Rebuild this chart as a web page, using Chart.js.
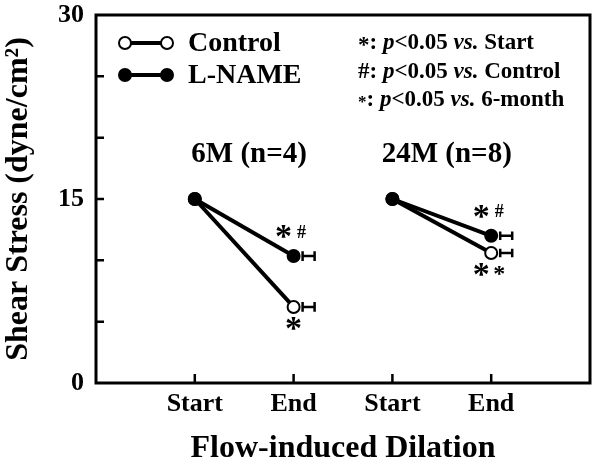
<!DOCTYPE html>
<html>
<head>
<meta charset="utf-8">
<script src="https://cdn.jsdelivr.net/npm/chart.js@4.4.0/dist/chart.umd.min.js"></script>
<style>
  body { margin: 0; background: #fff; }
  #wrap { width: 600px; height: 468px; }
</style>
</head>
<body>
<div id="wrap"><canvas id="shear-chart"></canvas></div>
<script>
// Data
var xLabels = ["", "Start", "End", "Start", "End", ""];
var groupLabels = ["6M (n=4)", "24M (n=8)"];
var controlVals = [15, 6.2, 15, 10.6];
var lnameVals = [15, 10.35, 15, 12.0];
var controlSem = [0, 0.4, 0, 0.35];
var lnameSem = [0, 0.4, 0, 0.35];
var yTickLabels = [0, 15, 30];
var seriesNames = ["Control", "L-NAME"];
// significance marks at the End points
var lnameMarks = [["*", "#"], ["*", "#"]];
var controlMarks = [["*"], ["*", "\u2217"]];
var noteLines = [
  ["*", "Start"],
  ["#", "Control"],
  ["\u2217", "6-month"],
];

var SERIF = "'Liberation Serif', 'Times New Roman', serif";

function groupPoints(vals, g) {
  return [
    { x: 2 * g + 1, y: vals[2 * g] },
    { x: 2 * g + 2, y: vals[2 * g + 1] },
  ];
}

function makeDataset(name, vals, g, filled) {
  return {
    label: name,
    data: groupPoints(vals, g),
    borderColor: "#000",
    borderWidth: 4,
    pointRadius: 6,
    pointBorderWidth: 2,
    pointBackgroundColor: filled ? "#000" : "#fff",
    pointBorderColor: "#000",
    tension: 0,
  };
}

// first datasets are drawn on top, so L-NAME first
var datasets = [
  makeDataset("L-NAME", lnameVals, 0, true),
  makeDataset("L-NAME", lnameVals, 1, true),
  makeDataset("Control", controlVals, 0, false),
  makeDataset("Control", controlVals, 1, false),
];

function drawMark(ctx, txt, x, y) {
  if (txt == "*") {
    ctx.font = "bold 34px " + SERIF;
    ctx.fillText("*", x, y + 5);
  } else if (txt == "#") {
    ctx.font = "bold 18px " + SERIF;
    ctx.fillText("#", x, y);
  } else {
    ctx.font = "bold 24px " + SERIF;
    ctx.fillText("*", x, y + 4);
  }
}

var extras = {
  id: "extras",
  afterDatasetsDraw: function (chart) {
    var ctx = chart.ctx;
    var xs = chart.scales.x;
    var ys = chart.scales.y;
    var area = chart.chartArea;
    ctx.save();
    ctx.strokeStyle = "#000";
    ctx.fillStyle = "#000";

    // frame
    ctx.lineWidth = 3;
    ctx.strokeRect(area.left, area.top, area.right - area.left, area.bottom - area.top);

    // inward tick marks
    ctx.lineWidth = 2.5;
    ctx.beginPath();
    for (var v = 5; v < 30; v += 5) {
      var py = ys.getPixelForValue(v);
      ctx.moveTo(area.left, py);
      ctx.lineTo(area.left + 8, py);
    }
    for (var i = 1; i <= 4; i++) {
      var px = xs.getPixelForValue(i);
      ctx.moveTo(px, area.bottom);
      ctx.lineTo(px, area.bottom - 9);
    }
    ctx.stroke();

    // error bars, drawn beside the End points
    function errBar(x, y, sem) {
      var px = xs.getPixelForValue(x);
      var py = ys.getPixelForValue(y);
      var h = Math.abs(ys.getPixelForValue(y + sem) - py);
      ctx.lineWidth = 2.5;
      ctx.beginPath();
      ctx.moveTo(px + 9, py);
      ctx.lineTo(px + 21, py);
      ctx.moveTo(px + 9, py - h);
      ctx.lineTo(px + 9, py + h);
      ctx.moveTo(px + 21, py - h);
      ctx.lineTo(px + 21, py + h);
      ctx.stroke();
    }
    for (var g = 0; g < 2; g++) {
      errBar(2 * g + 2, controlVals[2 * g + 1], controlSem[2 * g + 1]);
      errBar(2 * g + 2, lnameVals[2 * g + 1], lnameSem[2 * g + 1]);
    }

    // significance marks
    ctx.textAlign = "center";
    ctx.textBaseline = "middle";
    for (var g = 0; g < 2; g++) {
      var ex = xs.getPixelForValue(2 * g + 2);
      var upY = ys.getPixelForValue(Math.max(lnameVals[2 * g + 1], controlVals[2 * g + 1]));
      var dnY = ys.getPixelForValue(Math.min(lnameVals[2 * g + 1], controlVals[2 * g + 1]));
      lnameMarks[g].forEach(function (m, k) {
        drawMark(ctx, m, ex - 10 + k * 18, upY - 23);
      });
      controlMarks[g].forEach(function (m, k) {
        drawMark(ctx, m, ex - 10 * (controlMarks[g].length - 1) + k * 18, dnY + 18);
      });
    }

    // group labels
    ctx.font = "bold 29px " + SERIF;
    groupLabels.forEach(function (lab, g) {
      ctx.fillText(lab, xs.getPixelForValue(2 * g + 1.55), ys.getPixelForValue(18.6));
    });

    // legend
    var legY = [43, 75];
    seriesNames.forEach(function (name, k) {
      var y = legY[k];
      ctx.lineWidth = 4;
      ctx.beginPath();
      ctx.moveTo(125, y);
      ctx.lineTo(167, y);
      ctx.stroke();
      [125, 167].forEach(function (cx) {
        ctx.beginPath();
        ctx.arc(cx, y, 6, 0, Math.PI * 2);
        ctx.fillStyle = k == 0 ? "#fff" : "#000";
        ctx.fill();
        ctx.lineWidth = 2;
        ctx.stroke();
      });
      ctx.fillStyle = "#000";
      ctx.textAlign = "left";
      ctx.font = "bold 28px " + SERIF;
      ctx.fillText(name, 188, y + 1);
    });

    // significance notes
    var noteY = [43, 72, 100];
    noteLines.forEach(function (line, k) {
      var x = 358;
      var y = noteY[k];
      var parts = [
        [line[0] == "#" ? "#" : "*", "bold"],
        [": ", "bold"],
        ["p", "italic bold"],
        ["<0.05 ", "bold"],
        ["vs.", "italic bold"],
        [" " + line[1], "bold"],
      ];
      parts.forEach(function (p, j) {
        ctx.font = p[1] + " 23px " + SERIF;
        var dy = 0;
        if (j == 0 && line[0] != "#") {
          ctx.font = "bold " + (line[0] == "*" ? 23 : 17) + "px " + SERIF;
          dy = 3;
        }
        ctx.fillText(p[0], x, y + dy);
        x += ctx.measureText(p[0]).width;
      });
    });
    ctx.restore();
  },
};

new Chart(document.getElementById("shear-chart"), {
  type: "line",
  data: { datasets: datasets },
  options: {
    responsive: true,
    maintainAspectRatio: false,
    animation: false,
    layout: { padding: { top: 15, right: 10, left: 0, bottom: 0 } },
    plugins: {
      legend: { display: false },
      tooltip: { enabled: false },
    },
    scales: {
      x: {
        type: "linear",
        min: 0,
        max: 5,
        afterFit: function (scale) {
          scale.height = 85;
          scale.paddingLeft = 0;
          scale.paddingRight = 0;
        },
        grid: { display: false, drawTicks: false },
        border: { display: false },
        ticks: {
          stepSize: 1,
          padding: 6,
          color: "#000",
          font: { family: SERIF, size: 26, weight: "bold" },
          callback: function (v) {
            return xLabels[v] || "";
          },
        },
        title: {
          display: true,
          text: "Flow-induced Dilation",
          color: "#000",
          font: { family: SERIF, size: 32, weight: "bold" },
          padding: { top: 3, bottom: 0 },
        },
      },
      y: {
        min: 0,
        max: 30,
        afterFit: function (scale) {
          scale.width = 96;
          scale.paddingTop = 0;
          scale.paddingBottom = 0;
        },
        grid: { display: false, drawTicks: false },
        border: { display: false },
        ticks: {
          stepSize: 5,
          padding: 12,
          color: "#000",
          font: { family: SERIF, size: 26, weight: "bold" },
          callback: function (v) {
            return yTickLabels.indexOf(v) >= 0 ? String(v) : "";
          },
        },
        title: {
          display: true,
          text: "Shear Stress (dyne/cm\u00b2)",
          color: "#000",
          font: { family: SERIF, size: 32, weight: "bold" },
          padding: { top: 0, bottom: 0 },
        },
      },
    },
  },
  plugins: [extras],
});
</script>
</body>
</html>
